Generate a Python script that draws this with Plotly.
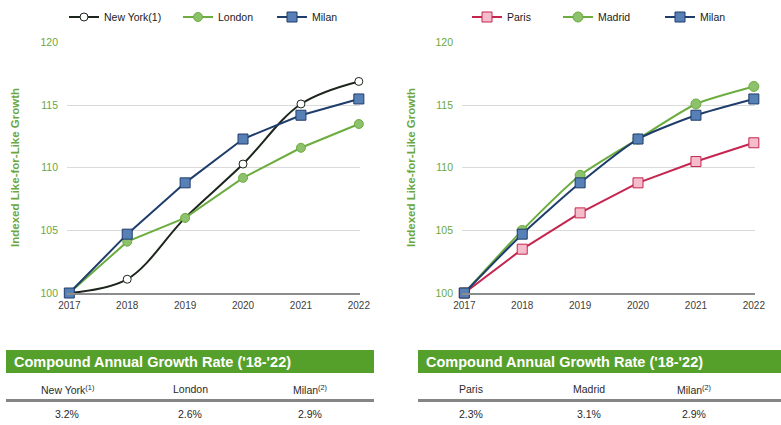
import plotly.graph_objects as go

# ---- data ----
years = [2017, 2018, 2019, 2020, 2021, 2022]

new_york = [100.0, 101.1, 106.0, 110.3, 115.1, 116.9]
london = [100.0, 104.1, 106.0, 109.2, 111.6, 113.5]
milan = [100.0, 104.7, 108.8, 112.3, 114.2, 115.5]

paris = [100.0, 103.5, 106.4, 108.8, 110.5, 112.0]
madrid = [100.0, 105.0, 109.4, 112.3, 115.1, 116.5]

y_ticks = [100, 105, 110, 115, 120]

table_title = "Compound Annual Growth Rate ('18-'22)"
left_cities = ["New York<sup>(1)</sup>", "London", "Milan<sup>(2)</sup>"]
left_cagr = ["3.2%", "2.6%", "2.9%"]
right_cities = ["Paris", "Madrid", "Milan<sup>(2)</sup>"]
right_cagr = ["2.3%", "3.1%", "2.9%"]

W, H = 781, 425
FONT = "Liberation Sans, Arial, sans-serif"
GREEN_TXT = "#6aa83e"
BAR_GREEN = "#55a02a"


def fx(px):
    return px / W


def fy(py):
    return 1 - py / H


fig = go.Figure()


def add_series(x_ref, y_ref, legend, name, ys, line_color, marker,
               shape="linear", smoothing=1.0):
    fig.add_trace(go.Scatter(
        x=years, y=ys, name=name, mode="lines+markers",
        xaxis=x_ref, yaxis=y_ref, legend=legend,
        line=dict(color=line_color, width=2, shape=shape, smoothing=smoothing),
        marker=marker, cliponaxis=False, showlegend=True,
    ))


# left panel
add_series("x", "y", "legend", "New York(1)", new_york, "#1c261c",
           dict(symbol="circle", size=8, color="white",
                line=dict(color="#1c261c", width=1)), shape="spline")
add_series("x", "y", "legend2", "London", london, "#6cad3f",
           dict(symbol="circle", size=9, color="#8dc16c",
                line=dict(color="#6cad3f", width=1)))
add_series("x", "y", "legend3", "Milan", milan, "#1f3d6b",
           dict(symbol="square", size=10, color="#5680b6",
                line=dict(color="#1f3d6b", width=1)))

# right panel
add_series("x2", "y2", "legend4", "Paris", paris, "#c4264f",
           dict(symbol="square", size=10, color="#f5bccb",
                line=dict(color="#c4264f", width=1)))
add_series("x2", "y2", "legend5", "Madrid", madrid, "#6cad3f",
           dict(symbol="circle", size=10, color="#8dc16c",
                line=dict(color="#6cad3f", width=1)),
           shape="spline", smoothing=0.6)
add_series("x2", "y2", "legend6", "Milan", milan, "#1f3d6b",
           dict(symbol="square", size=10, color="#5680b6",
                line=dict(color="#1f3d6b", width=1)),
           shape="spline", smoothing=0.6)

xaxis_common = dict(
    range=[2016.96, 2022.02], tickvals=years, showgrid=False, zeroline=False,
    showline=True, linecolor="#8c8c8c", linewidth=2, ticks="",
    ticklabelstandoff=2,
    tickfont=dict(family=FONT, size=10, color="#404040"), fixedrange=True,
)
yaxis_common = dict(
    range=[100, 120.05], tickvals=y_ticks, showgrid=True, gridcolor="#dadada",
    gridwidth=1, zeroline=False, showline=False, ticks="",
    ticklabelstandoff=8,
    tickfont=dict(family=FONT, size=10.5, color=GREEN_TXT), fixedrange=True,
)

legend_common = dict(
    orientation="h", yanchor="middle", xanchor="left", y=fy(17),
    font=dict(family=FONT, size=10.5, color="#1a1a1a"), bgcolor="rgba(0,0,0,0)",
    borderwidth=0, itemwidth=30,
)

# left edge of each legend entry
legend_x = [64, 178, 272, 467, 558, 660]

fig.update_layout(
    width=W, height=H,
    margin=dict(l=0, r=0, t=0, b=0, pad=0, autoexpand=False),
    paper_bgcolor="white", plot_bgcolor="white",
    font=dict(family=FONT),
    xaxis=dict(domain=[fx(67), fx(360)], anchor="y", **xaxis_common),
    yaxis=dict(domain=[fy(293), fy(42)], anchor="x", **yaxis_common),
    xaxis2=dict(domain=[fx(462), fx(755)], anchor="y2", **xaxis_common),
    yaxis2=dict(domain=[fy(293), fy(42)], anchor="x2", **yaxis_common),
    legend=dict(x=fx(legend_x[0]), **legend_common),
    legend2=dict(x=fx(legend_x[1]), **legend_common),
    legend3=dict(x=fx(legend_x[2]), **legend_common),
    legend4=dict(x=fx(legend_x[3]), **legend_common),
    legend5=dict(x=fx(legend_x[4]), **legend_common),
    legend6=dict(x=fx(legend_x[5]), **legend_common),
)

# axis titles
for x_px in (15, 411):
    fig.add_annotation(
        x=fx(x_px), y=fy(168), xref="paper", yref="paper",
        xanchor="center", yanchor="middle",
        text="<b>Indexed Like-for-Like Growth</b>", textangle=-90,
        showarrow=False, font=dict(family=FONT, size=11.5, color=GREEN_TXT),
    )

# CAGR tables
tables = [
    (6, 374, left_cities, left_cagr, [67, 190, 310]),
    (418, 781, right_cities, right_cagr, [471, 589, 694]),
]
for x0, x1, cities, values, cols in tables:
    fig.add_shape(type="rect", xref="paper", yref="paper",
                  x0=fx(x0), x1=fx(x1), y0=fy(373), y1=fy(350),
                  fillcolor=BAR_GREEN, line=dict(width=0), layer="below")
    fig.add_annotation(
        x=fx(x0 + 6), y=fy(361.5), xref="paper", yref="paper",
        xanchor="left", yanchor="middle", showarrow=False,
        text="<b>" + table_title + "</b>",
        font=dict(family=FONT, size=14.5, color="white"),
    )
    fig.add_shape(type="line", xref="paper", yref="paper",
                  x0=fx(x0), x1=fx(x1), y0=fy(400.5), y1=fy(400.5),
                  line=dict(color="#858585", width=3))
    for cx, city, val in zip(cols, cities, values):
        fig.add_annotation(
            x=fx(cx), y=fy(389), xref="paper", yref="paper",
            xanchor="center", yanchor="middle",
            showarrow=False, text=city,
            font=dict(family=FONT, size=10.5, color="#2a2a2a"),
        )
        fig.add_annotation(
            x=fx(cx), y=fy(414), xref="paper", yref="paper",
            xanchor="center", yanchor="middle",
            showarrow=False, text=val,
            font=dict(family=FONT, size=10.5, color="#2a2a2a"),
        )

fig.write_html("out.html", post_script="document.body.style.margin='0px';")
